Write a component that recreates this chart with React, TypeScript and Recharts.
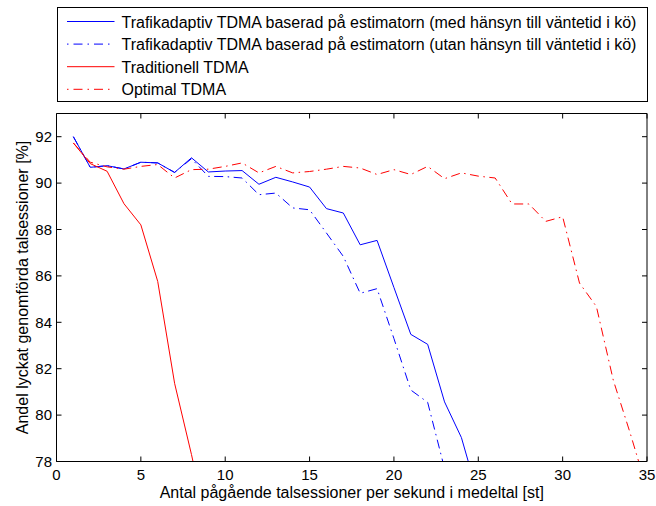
import React from 'react';
import { LineChart, Line, XAxis, YAxis, Legend, Label } from 'recharts';

// Mean number of ongoing voice sessions per second
const sessionRates = [
  1, 2, 3, 4, 5, 6, 7, 8, 9, 10, 11, 12, 13, 14, 15, 16, 17, 18, 19, 20,
  21, 22, 23, 24, 25, 26, 27, 28, 29, 30, 31, 32, 33, 34, 35,
];

// Share of successfully completed sessions [%]
const adaptiveWithQueue = [
  92.0, 90.68, 90.75, 90.61, 90.9, 90.87, 90.46, 91.09, 90.48, 90.52,
  90.54, 89.95, 90.25, 90.05, 89.83, 88.9, 88.71, 87.34, 87.53, 85.5,
  83.48, 83.05, 80.57, 79.03, 76.5,
];
const adaptiveWithoutQueue = [
  92.0, 90.68, 90.75, 90.61, 90.9, 90.87, 90.46, 91.05, 90.29, 90.28,
  90.22, 89.5, 89.57, 88.93, 88.85, 87.85, 86.84, 85.25, 85.45, 83.3,
  81.08, 80.55, 77.7,
];
const traditional = [91.73, 90.84, 90.51, 89.11, 88.2, 85.76, 81.37, 78.3, 75.0];
const optimal = [
  91.73, 90.9, 90.7, 90.6, 90.72, 90.8, 90.22, 90.58, 90.6, 90.72,
  90.87, 90.44, 90.72, 90.44, 90.5, 90.6, 90.72, 90.65, 90.37, 90.58,
  90.37, 90.72, 90.19, 90.44, 90.3, 90.22, 89.1, 89.1, 88.35, 88.55,
  85.69, 84.68, 81.51, 79.23, 76.8,
];

const xTicks = [0, 5, 10, 15, 20, 25, 30, 35];
const yTicks = [78, 80, 82, 84, 86, 88, 90, 92];

const legendLabels = [
  'Trafikadaptiv TDMA baserad på estimatorn (med hänsyn till väntetid i kö)',
  'Trafikadaptiv TDMA baserad på estimatorn (utan hänsyn till väntetid i kö)',
  'Traditionell TDMA',
  'Optimal TDMA',
];

const DASH_DOT = '9 4.5 1.5 4.5';
const FONT = '"Liberation Sans", Arial, Helvetica, sans-serif';

const series = [
  { key: 'withQueue', name: legendLabels[0], color: '#0000ff', dash: undefined as string | undefined },
  { key: 'withoutQueue', name: legendLabels[1], color: '#0000ff', dash: DASH_DOT },
  { key: 'traditional', name: legendLabels[2], color: '#ff0000', dash: undefined as string | undefined },
  { key: 'optimal', name: legendLabels[3], color: '#ff0000', dash: DASH_DOT },
];

const data = sessionRates.map((x, i) => ({
  x,
  withQueue: adaptiveWithQueue[i],
  withoutQueue: adaptiveWithoutQueue[i],
  traditional: traditional[i],
  optimal: optimal[i],
}));

const LegendBox = () => (
  <svg width={591} height={95} style={{ display: 'block', fontFamily: FONT }}>
    <rect x={0.5} y={0.5} width={590} height={94} fill="#fff" stroke="#000" strokeWidth={1} />
    {series.map((s, i) => {
      const y = 14.5 + i * 22.6;
      return (
        <g key={s.key}>
          <line
            x1={10}
            x2={57.5}
            y1={y}
            y2={y}
            stroke={s.color}
            strokeWidth={1}
            strokeDasharray={s.dash ? '1.5 5 9 5' : undefined}
          />
          <text x={64.5} y={y + 6} fontSize={16} fill="#000">
            {s.name}
          </text>
        </g>
      );
    })}
  </svg>
);

const tickStyle = { fill: '#000', fontSize: 15, fontFamily: FONT };
const blank = () => '';

export default function App() {
  return (
    <div style={{ position: 'absolute', left: 0, top: 0, width: 656, height: 506, background: '#fff' }}>
      <LineChart
        width={656}
        height={506}
        data={data}
        margin={{ top: 112.5, right: 8, bottom: 14.5, left: 0 }}
        style={{ fontFamily: FONT }}
      >
        <XAxis
          xAxisId="bottom"
          dataKey="x"
          type="number"
          domain={[0, 35]}
          ticks={xTicks}
          allowDataOverflow
          height={30}
          tickSize={-5}
          tickMargin={13}
          tick={tickStyle}
          axisLine={{ stroke: '#000' }}
          tickLine={{ stroke: '#000' }}
        >
          <Label
            value="Antal pågående talsessioner per sekund i medeltal [st]"
            position="center"
            dy={16}
            fill="#000"
            fontSize={16}
            fontFamily={FONT}
          />
        </XAxis>
        <XAxis
          xAxisId="top"
          orientation="top"
          dataKey="x"
          type="number"
          domain={[0, 35]}
          ticks={xTicks}
          allowDataOverflow
          height={1}
          tickSize={-5}
          tickFormatter={blank}
          axisLine={{ stroke: '#000' }}
          tickLine={{ stroke: '#000' }}
        />
        <YAxis
          yAxisId="left"
          type="number"
          domain={[78, 93]}
          ticks={yTicks}
          allowDataOverflow
          width={56.5}
          tickSize={-5}
          tickMargin={9.5}
          tick={tickStyle}
          axisLine={{ stroke: '#000' }}
          tickLine={{ stroke: '#000' }}
        >
          <Label
            value="Andel lyckat genomförda talsessioner [%]"
            position="center"
            angle={-90}
            dx={-5.5}
            fill="#000"
            fontSize={16}
            fontFamily={FONT}
          />
        </YAxis>
        <YAxis
          yAxisId="right"
          orientation="right"
          type="number"
          domain={[78, 93]}
          ticks={yTicks}
          allowDataOverflow
          width={1}
          tickSize={-5}
          tickFormatter={blank}
          axisLine={{ stroke: '#000' }}
          tickLine={{ stroke: '#000' }}
        />
        <Legend
          layout="vertical"
          align="center"
          verticalAlign="middle"
          wrapperStyle={{ left: 56.5, top: 7, width: 591, height: 95 }}
          content={() => <LegendBox />}
        />
        {series.map((s) => (
          <Line
            key={s.key}
            xAxisId="bottom"
            yAxisId="left"
            dataKey={s.key}
            name={s.name}
            type="linear"
            stroke={s.color}
            strokeWidth={1}
            strokeDasharray={s.dash}
            dot={false}
            activeDot={false}
            isAnimationActive={false}
          />
        ))}
      </LineChart>
    </div>
  );
}
